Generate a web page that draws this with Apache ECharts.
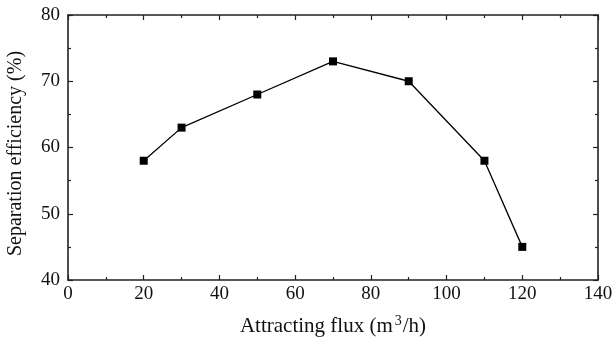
<!DOCTYPE html>
<html><head><meta charset="utf-8">
<script src="https://cdn.jsdelivr.net/npm/echarts@6/dist/echarts.min.js"></script>
<style>html,body{margin:0;padding:0;background:#fff}#c{width:613px;height:345px}</style>
</head><body><div id="c"></div>
<script>
const xValues = [20, 30, 50, 70, 90, 110, 120];
const yValues = [58, 63, 68, 73, 70, 58, 45];
const xTitle = 'Attracting flux (m{sup|3}/h)';
const yTitle = 'Separation efficiency (%)';

const font = 'Liberation Serif';
const axisColor = '#222';
const chart = echarts.init(document.getElementById('c'));
const base = {
  axisLine: {show: true, onZero: false, lineStyle: {color: axisColor, width: 1.6}},
  axisTick: {show: true, inside: true, length: 5, lineStyle: {color: axisColor, width: 1.2}},
  minorTick: {show: true, splitNumber: 2, length: 3, lineStyle: {color: axisColor, width: 1.2}},
  splitLine: {show: false}
};
chart.setOption({
  animation: false,
  grid: {left: 68, right: 15, top: 15, bottom: 65, containLabel: false, outerBoundsMode: 'none'},
  xAxis: [
    Object.assign({type: 'value', min: 0, max: 140, interval: 20, position: 'bottom',
      name: xTitle, nameLocation: 'middle', nameGap: 34,
      nameTextStyle: {fontFamily: font, fontSize: 21, color: '#111',
        rich: {sup: {fontFamily: font, fontSize: 14, verticalAlign: 'top', color: '#111', padding: [0,1,10,2]}}},
      axisLabel: {fontFamily: font, fontSize: 19, color: '#111', margin: 5}}, base),
    Object.assign({type: 'value', min: 0, max: 140, interval: 20, position: 'top',
      axisLabel: {show: false}}, base)
  ],
  yAxis: [
    Object.assign({type: 'value', min: 40, max: 80, interval: 10, position: 'left',
      name: yTitle, nameLocation: 'middle', nameGap: 42,
      nameTextStyle: {fontFamily: font, fontSize: 20, color: '#111', padding: [0, 12, 0, 0]},
      axisLabel: {fontFamily: font, fontSize: 19, color: '#111', margin: 8}}, base),
    Object.assign({type: 'value', min: 40, max: 80, interval: 10, position: 'right',
      axisLabel: {show: false}}, base)
  ],
  series: [{
    type: 'line',
    data: xValues.map((x, i) => [x, yValues[i]]),
    symbol: 'rect', symbolSize: 8,
    itemStyle: {color: '#000'},
    lineStyle: {color: '#000', width: 1.3}
  }]
});
</script></body></html>
